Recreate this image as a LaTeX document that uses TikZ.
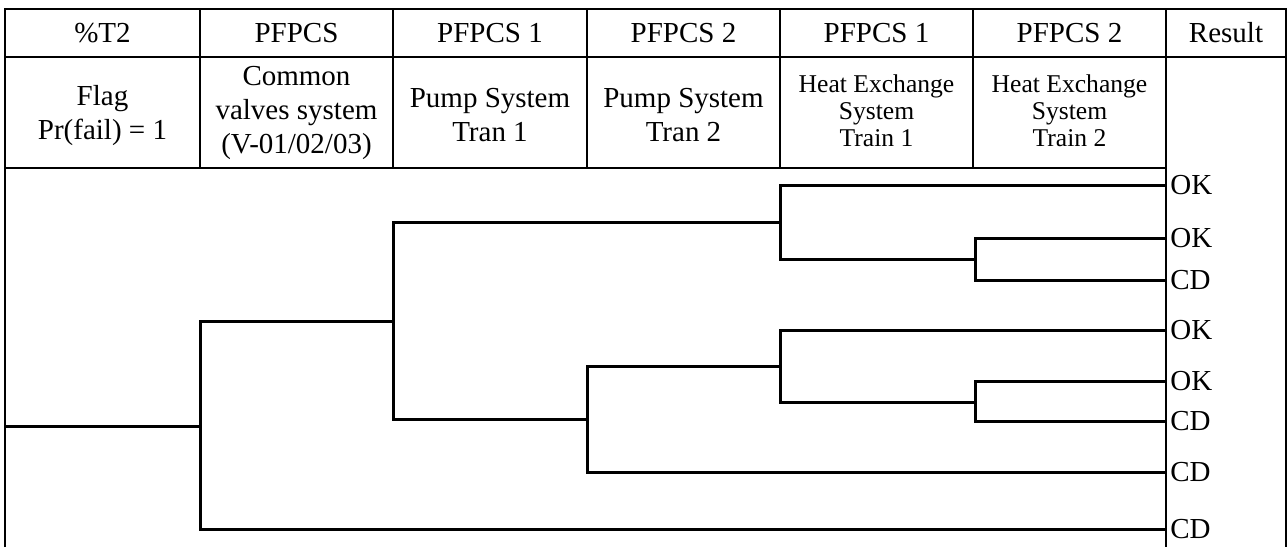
\documentclass[tikz,border=0pt]{standalone}
\usepackage{fontspec}
\setmainfont{Liberation Serif}
\usepackage{tikz}

\begin{document}
\begin{tikzpicture}[
  x=0.5pt, y=-0.5pt,
  font=\fontsize{14.5}{17}\selectfont,
  grid/.style={line width=0.9pt},
  head/.style={align=center, inner sep=0pt},
  small/.style={head, font=\fontsize{12.8}{13.4}\selectfont},
  branch/.style={line width=1.5pt},
  result/.style={anchor=west, inner sep=2pt}
]
\useasboundingbox (0,0) rectangle (1287,547);
% table frame
\draw[grid] (5,547) -- (5,9) -- (1286,9) -- (1286,547);
\draw[grid] (5,57) -- (1286,57);
\draw[grid] (5,168) -- (1166,168);
\foreach \x in {200,393,587,780,973} \draw[grid] (\x,9) -- (\x,168);
\draw[grid] (1166,9) -- (1166,547);
% header row 1
\node[head] (h1) at (102.5,33)  {\%T2};
\node[head] (h2) at (296.5,33)  {PFPCS};
\node[head] (h3) at (490,33)    {PFPCS 1};
\node[head] (h4) at (683.5,33)  {PFPCS 2};
\node[head] (h5) at (876.5,33)  {PFPCS 1};
\node[head] (h6) at (1069.5,33) {PFPCS 2};
\node[head] (h7) at (1226,33)   {Result};
% header row 2
\node[head]  (s1) at (102.5,116) {Flag\\Pr(fail) = 1};
\node[head]  (s2) at (296.5,113) {Common\\valves system\\(V-01/02/03)};
\node[head]  (s3) at (490,115)   {Pump System\\Tran 1};
\node[head]  (s4) at (683.5,115) {Pump System\\Tran 2};
\node[small] (s5) at (876.5,111) {Heat Exchange\\System\\Train 1};
\node[small] (s6) at (1069.5,111){Heat Exchange\\System\\Train 2};
% end states
\node[result] (ok1) at (1166,185) {OK};
\node[result] (ok2) at (1166,238) {OK};
\node[result] (cd1) at (1166,280) {CD};
\node[result] (ok3) at (1166,330) {OK};
\node[result] (ok4) at (1166,381) {OK};
\node[result] (cd2) at (1166,421) {CD};
\node[result] (cd3) at (1166,472) {CD};
\node[result] (cd4) at (1166,529) {CD};
% branch points
\coordinate (init) at (5,426);
\coordinate (flag) at (200,426);
\coordinate (cvs)  at (393,321);
\coordinate (pump) at (587,419);
\coordinate (hx1a) at (780,222);
\coordinate (hx1b) at (780,366);
\coordinate (hx2a) at (975,259);
\coordinate (hx2b) at (975,402);
% tree
\draw[branch] (init) -- (flag);
\draw[branch] (flag) |- (cvs);
\draw[branch] (flag) |- (cd4.west);
\draw[branch] (cvs) |- (hx1a);
\draw[branch] (cvs) |- (pump);
\draw[branch] (hx1a) |- (ok1.west);
\draw[branch] (hx1a) |- (hx2a);
\draw[branch] (hx2a) |- (ok2.west);
\draw[branch] (hx2a) |- (cd1.west);
\draw[branch] (pump) |- (hx1b);
\draw[branch] (pump) |- (cd3.west);
\draw[branch] (hx1b) |- (ok3.west);
\draw[branch] (hx1b) |- (hx2b);
\draw[branch] (hx2b) |- (ok4.west);
\draw[branch] (hx2b) |- (cd2.west);
\end{tikzpicture}
\end{document}
